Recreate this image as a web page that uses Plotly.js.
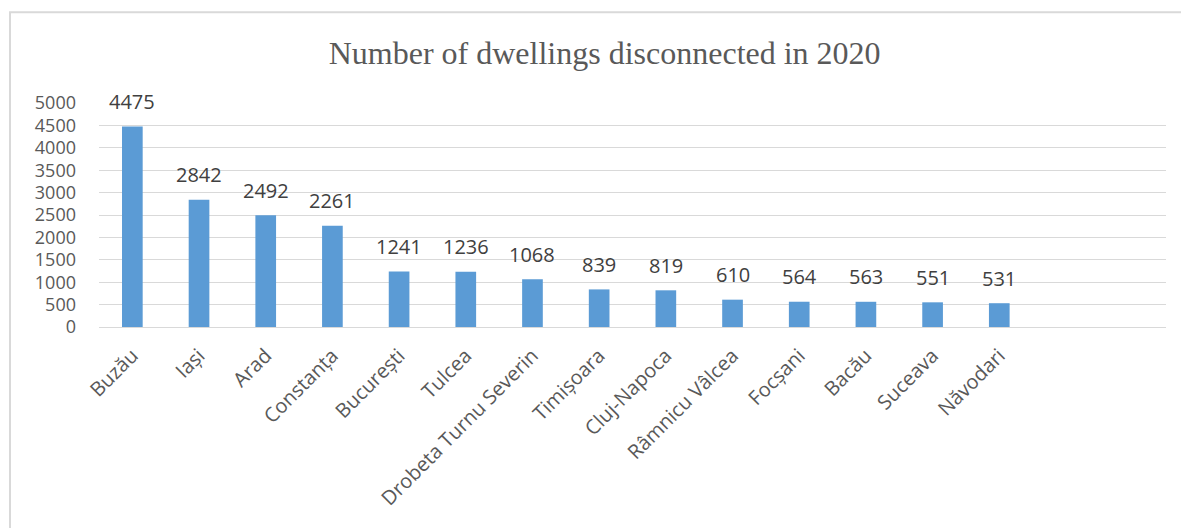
<!DOCTYPE html>
<html>
<head>
<meta charset="utf-8">
<script src="https://cdn.plot.ly/plotly-3.0.1.min.js"></script>
<style>html,body{margin:0;padding:0;background:#fff;}#chart{width:1181px;height:528px;}</style>
</head>
<body>
<div id="chart"></div>
<script>
const cities = ["Buzău","Iași","Arad","Constanța","București","Tulcea","Drobeta Turnu Severin","Timișoara","Cluj-Napoca","Râmnicu Vâlcea","Focșani","Bacău","Suceava","Năvodari"];
const dwellings = [4475,2842,2492,2261,1241,1236,1068,839,819,610,564,563,551,531];
const yTicks = [0,500,1000,1500,2000,2500,3000,3500,4000,4500,5000];

const grey = "#595959";
const trace = {
  type: "bar",
  x: cities,
  y: dwellings,
  width: 0.31,
  marker: {color: "#5B9BD5"},
  hoverinfo: "x+y"
};

const annotations = cities.map((c, i) => ({
  x: c, y: dwellings[i], xref: "x", yref: "y",
  text: String(dwellings[i]), showarrow: false,
  yanchor: "middle", yshift: 25,
  font: {family: "Open Sans, sans-serif", size: 20, color: "#404040"}
}));

const layout = {
  width: 1181, height: 528,
  margin: {l: 99, r: 15, t: 103, b: 201},
  paper_bgcolor: "#fff", plot_bgcolor: "#fff",
  showlegend: false,
  title: {
    text: "Number of dwellings disconnected in 2020",
    font: {family: "Liberation Serif, Times New Roman, serif", size: 32, color: grey},
    x: 0.512, xanchor: "center", y: 0.9, yanchor: "middle", yref: "container"
  },
  xaxis: {
    type: "category",
    range: [-0.5, 15.5],
    tickangle: -45,
    tickfont: {family: "Open Sans, sans-serif", size: 20, color: grey},
    showgrid: false,
    showline: true, linecolor: "#d9d9d9", linewidth: 1,
    ticks: "", fixedrange: true,
    ticklabelstandoff: 8
  },
  yaxis: {
    range: [0, 5000],
    tickvals: yTicks,
    ticktext: yTicks.map(String),
    tickfont: {family: "Open Sans, sans-serif", size: 18, color: grey},
    showgrid: true, gridcolor: "#d9d9d9", gridwidth: 1,
    zeroline: false, showline: false, ticks: "",
    ticklabelstandoff: 22
  },
  annotations: annotations,
  shapes: [{
    type: "rect", xref: "paper", yref: "paper",
    x0: -0.0834, x1: 1.1, y0: -1.2, y1: 1.405,
    line: {color: "#d9d9d9", width: 2}, fillcolor: "rgba(0,0,0,0)", layer: "below"
  }]
};

Plotly.newPlot("chart", [trace], layout, {displayModeBar: false, staticPlot: true});
</script>
</body>
</html>
